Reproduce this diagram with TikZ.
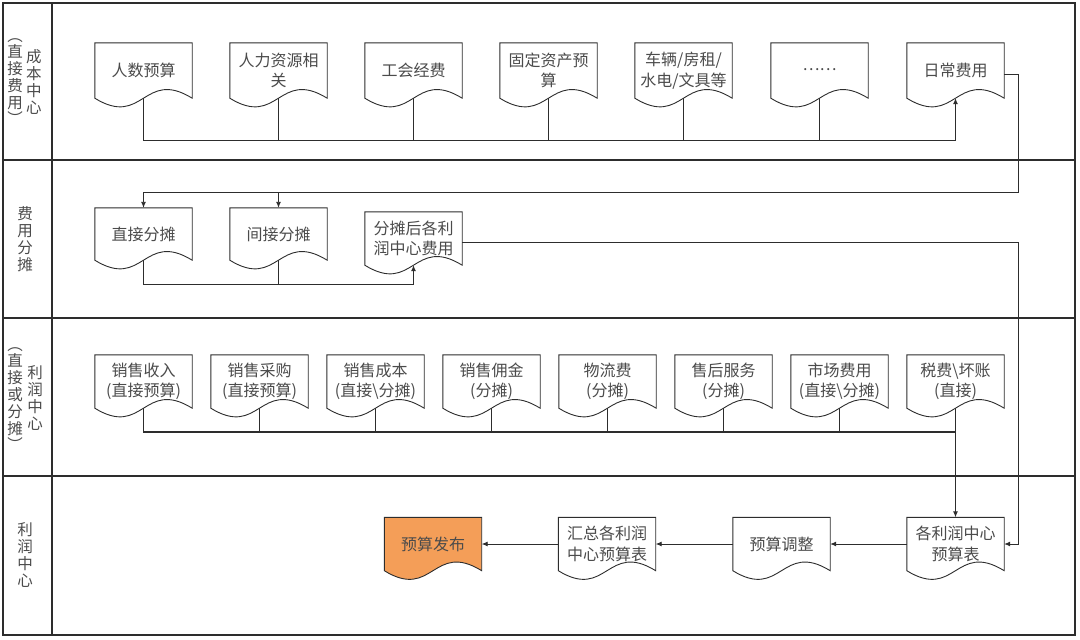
\documentclass[tikz,border=0pt]{standalone}
\usepackage{fontspec}
\usepackage{graphicx}
\setmainfont{Noto Sans CJK SC}
\usetikzlibrary{arrows.meta,backgrounds}
\definecolor{txt}{RGB}{75,75,75}
\definecolor{ln}{RGB}{45,45,45}
\definecolor{orangefill}{RGB}{244,158,88}
\newcommand{\mydocpath}[2][]{\path[docline,#1] (#2.south west) -- (#2.north west) -- (#2.north east) -- (#2.south east) .. controls ([yshift=30pt]#2.south) and ([yshift=-30pt]#2.south) .. (#2.south west) -- cycle;}
\tikzset{
  docline/.style={draw=ln, line width=0.9pt},
  doc/.style={minimum width=97pt, minimum height=54pt, inner sep=0pt, align=center, text=txt,
    font=\fontsize{16}{20.5}\selectfont},
  conn/.style={draw=ln, line width=0.9pt},
  arr/.style={conn, -{Latex[length=6pt,width=5pt]}},
  lane/.style={draw=ln, line width=1.3pt},
  lanetext/.style={align=center, text=txt, font=\fontsize{15.5}{17}\selectfont, inner sep=0pt},
}
\begin{document}
\begin{tikzpicture}[x=1pt,y=-1pt]
\useasboundingbox (0,0) rectangle (1080,640);
% frame and lanes
\draw[lane] (3,3) rectangle (1075,635);
\draw[ln, line width=2.5pt] (1075,3) -- (1075,635) -- (3,635);
\draw[lane] (52,3) -- (52,635);
\draw[lane] (3,160) -- (1075,160);
\draw[lane] (3,318) -- (1075,318);
\draw[lane] (3,476) -- (1075,476);
% lane labels
\node[lanetext] (t1a) at (34,82) {成\\本\\中\\心};
\node[lanetext] (t1b) at (15,82) {︵\\[-1pt]直\\接\\费\\用\\[-1pt]︶};
\node[lanetext] (t2) at (25,239) {费\\用\\分\\摊};
\node[lanetext] (t3a) at (35,398) {利\\润\\中\\心};
\node[lanetext] (t3b) at (15,399) {︵\\[-1pt]直\\接\\或\\分\\摊\\[-1pt]︶};
\node[lanetext] (t4) at (25,555) {利\\润\\中\\心};
% row 1
\node[doc, minimum height=55pt] (c1) at (143.5,70.5) {人数预算};
\node[doc, minimum height=55pt] (c2) at (278.5,70.5) {人力资源相\\关};
\node[doc, minimum height=55pt] (c3) at (413.5,70.5) {工会经费};
\node[doc, minimum height=55pt] (c4) at (548.5,70.5) {固定资产预\\算};
\node[doc, minimum height=55pt] (c5) at (683.5,70.5) {车辆/房租/\\水电/文具等};
\node[doc, minimum height=55pt] (c6) at (819.5,70.5) {\raisebox{3pt}{……}};
\node[doc, minimum height=55pt] (c7) at (955.5,70.5) {日常费用};
% row 2
\node[doc, minimum height=52pt] (a1) at (143.5,234) {直接分摊};
\node[doc, minimum height=52pt] (a2) at (278.5,234) {间接分摊};
\node[doc, minimum height=53pt] (a3) at (413.5,238.5) {分摊后各利\\润中心费用};
% row 3
\node[doc, minimum height=53pt] (p1) at (143.5,381.5) {销售收入\\(直接预算)};
\node[doc, minimum height=53pt] (p2) at (259.5,381.5) {销售采购\\(直接预算)};
\node[doc, minimum height=53pt] (p3) at (375.5,381.5) {销售成本\\(直接\textbackslash 分摊)};
\node[doc, minimum height=53pt] (p4) at (491.5,381.5) {销售佣金\\(分摊)};
\node[doc, minimum height=53pt] (p5) at (607.5,381.5) {物流费\\(分摊)};
\node[doc, minimum height=53pt] (p6) at (723.5,381.5) {售后服务\\(分摊)};
\node[doc, minimum height=53pt] (p7) at (839.5,381.5) {市场费用\\(直接\textbackslash 分摊)};
\node[doc, minimum height=53pt] (p8) at (955.5,381.5) {税费\textbackslash 坏账\\(直接)};
% row 4
\node[doc, minimum height=53pt] (r1) at (955.5,544) {各利润中心\\预算表};
\node[doc, minimum height=53pt] (r2) at (781.5,544) {预算调整};
\node[doc, minimum height=53pt] (r3) at (607,544) {汇总各利润\\中心预算表};
\node[doc, minimum height=53pt] (r4) at (433,544) {预算发布};
% document outlines
\begin{scope}[on background layer]
\foreach \n in {c1,c2,c3,c4,c5,c6,c7,a1,a2,a3,p1,p2,p3,p4,p5,p6,p7,p8,r1,r2,r3} {\mydocpath[fill=white]{\n}}
\mydocpath[fill=orangefill]{r4}
\end{scope}
% coordinates for buses
\coordinate (b1) at (0,140);
\coordinate (b2) at (0,192);
\coordinate (b3) at (0,284);
\coordinate (b4) at (0,432);
\coordinate (rx) at (1018,0);
% row 1 connectors
\draw[arr] (c1.south) |- (b1 -| c7.south) -- (c7.south);
\foreach \n in {c2,c3,c4,c5,c6} {\draw[conn] (\n.south) -- (\n.south |- b1);}
\draw[arr] ([yshift=-4pt]c7.east) -| (rx |- b2) -| (a1.north);
\draw[arr] (a2.north |- b2) -- (a2.north);
% row 2 connectors
\draw[arr] (a1.south) |- (b3 -| a3.south) -- (a3.south);
\draw[conn] (a2.south) -- (a2.south |- b3);
\draw[arr] ([yshift=-4pt]a3.east) -| (rx |- r1.east) -- (r1.east);
% row 3 connectors
\draw[conn, line width=1.4pt] (p1.south) |- (b4 -| p8.south);
\foreach \i in {2,...,7} {\draw[conn] (p\i.south) -- (p\i.south |- b4);}
\draw[arr] (p8.south) -- (r1.north);
% row 4 connectors
\draw[arr] (r1.west) -- (r2.east);
\draw[arr] (r2.west) -- (r3.east);
\draw[arr] (r3.west) -- (r4.east);
\end{tikzpicture}
\end{document}
